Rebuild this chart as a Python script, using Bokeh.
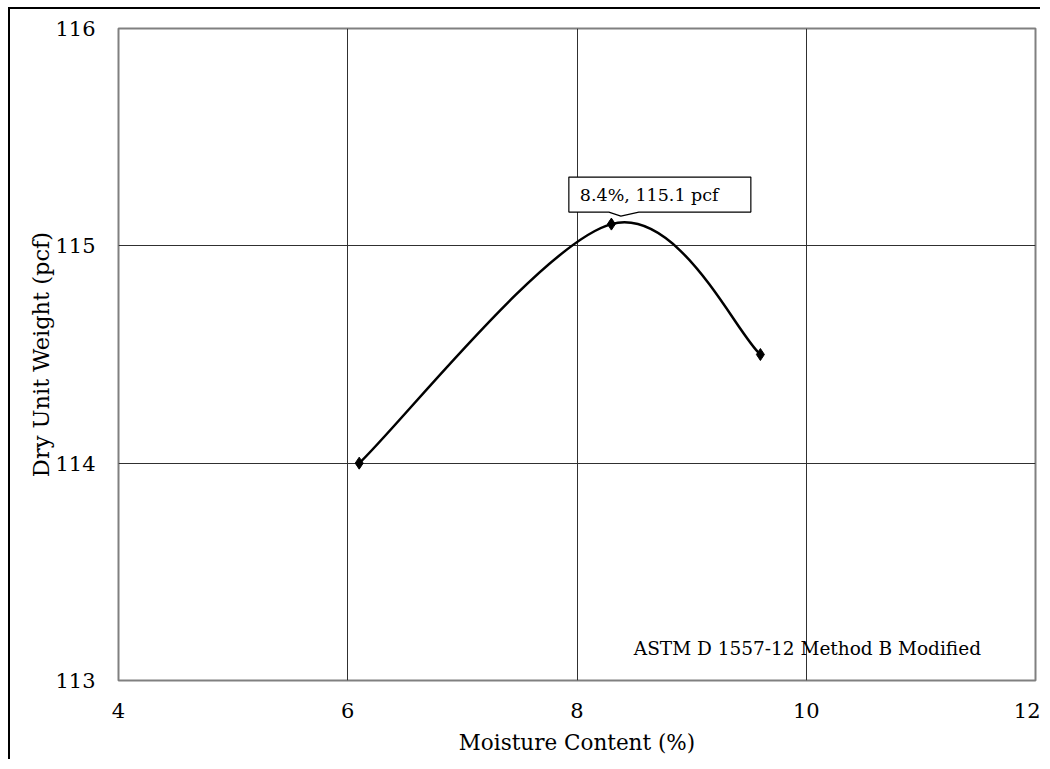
from bokeh.plotting import figure
from bokeh.models import Range1d, FixedTicker
from bokeh.embed import file_html
from bokeh.resources import INLINE
from bokeh.core.properties import value

# data
moisture = [6.1, 8.3, 9.6]
dry_unit_weight = [114.0, 115.1, 114.5]
x_ticks = [4, 6, 8, 10, 12]
y_ticks = [113, 114, 115, 116]
peak_label = "8.4%, 115.1 pcf"
peak_x, peak_y = 8.4, 115.1
method_note = "ASTM D 1557-12 Method B Modified"

FONT = "DejaVu Serif"

p = figure(width=1032, height=752, output_backend="svg", toolbar_location=None,
           x_range=Range1d(4, 12), y_range=Range1d(113, 116),
           min_border_left=108, min_border_right=7, min_border_top=19, min_border_bottom=81)
p.styles = {"border-left": "2px solid black", "border-top": "2px solid black",
            "margin-left": "8px", "margin-top": "7px"}

p.outline_line_color = "#808080"
p.outline_line_width = 2

for ax in (p.xaxis, p.yaxis):
    ax.axis_line_color = None
    ax.major_tick_line_color = None
    ax.minor_tick_line_color = None
    ax.major_tick_out = 0
    ax.major_label_text_font = FONT
    ax.major_label_text_font_size = "21px"
    ax.major_label_text_color = "black"
    ax.axis_label_text_font = FONT
    ax.axis_label_text_font_style = "normal"
    ax.axis_label_text_color = "black"

p.xaxis.axis_label_text_font_size = "21.5px"
p.yaxis.axis_label_text_font_size = "22.5px"
p.xaxis.ticker = FixedTicker(ticks=x_ticks)
p.yaxis.ticker = FixedTicker(ticks=y_ticks)
p.xaxis.major_label_standoff = 22
p.yaxis.major_label_standoff = 23
p.xaxis.axis_label = "Moisture Content (%)"
p.yaxis.axis_label = "Dry Unit Weight (pcf)"
p.xaxis.axis_label_standoff = 9
p.yaxis.axis_label_standoff = -2

p.xgrid.grid_line_color = "#303030"
p.ygrid.grid_line_color = "#303030"
p.xgrid.grid_line_width = 1
p.ygrid.grid_line_width = 1

# smoothed curve through the points (Catmull-Rom style Bezier, like a spreadsheet's smoothed line)
n = len(moisture)
x0s, y0s, x1s, y1s, cx0s, cy0s, cx1s, cy1s = [], [], [], [], [], [], [], []
for i in range(n - 1):
    pm = max(i - 1, 0)
    pn = min(i + 2, n - 1)
    x0s.append(moisture[i]); y0s.append(dry_unit_weight[i])
    x1s.append(moisture[i + 1]); y1s.append(dry_unit_weight[i + 1])
    cx0s.append(moisture[i] + (moisture[i + 1] - moisture[pm]) / 6)
    cy0s.append(dry_unit_weight[i] + (dry_unit_weight[i + 1] - dry_unit_weight[pm]) / 6)
    cx1s.append(moisture[i + 1] - (moisture[pn] - moisture[i]) / 6)
    cy1s.append(dry_unit_weight[i + 1] - (dry_unit_weight[pn] - dry_unit_weight[i]) / 6)
p.bezier(x0=x0s, y0=y0s, x1=x1s, y1=y1s, cx0=cx0s, cy0=cy0s, cx1=cx1s, cy1=cy1s,
         line_color="black", line_width=2.5)

p.scatter(moisture, dry_unit_weight, marker="diamond", size=12, color="black")

# callout box for the peak (offsets in data units derived from the axis scale)
sx = 8 / 917.0   # data per pixel, x
sy = 3 / 652.0   # data per pixel, y
left = peak_x - 54 * sx
right = peak_x + 128 * sx
bottom = peak_y + 12 * sy
top = peak_y + 47 * sy
apex_x = peak_x - 2 * sx
apex_y = peak_y + 8 * sy
p.patch([left, right, right, apex_x + 18 * sx, apex_x, apex_x - 12 * sx, left],
        [top, top, bottom, bottom, apex_y, bottom, bottom],
        fill_color="white", line_color="black", line_width=1.2)
p.text(x=[left + 11 * sx], y=[(top + bottom) / 2], text=[peak_label],
       text_font=value(FONT), text_font_size="17.5px", text_color="black",
       text_align="left", text_baseline="middle")

p.text(x=[10.01], y=[113.147], text=[method_note],
       text_font=value(FONT), text_font_size="18.5px", text_color="black",
       text_align="center", text_baseline="middle")

open("out.html", "w").write(file_html(p, INLINE))
